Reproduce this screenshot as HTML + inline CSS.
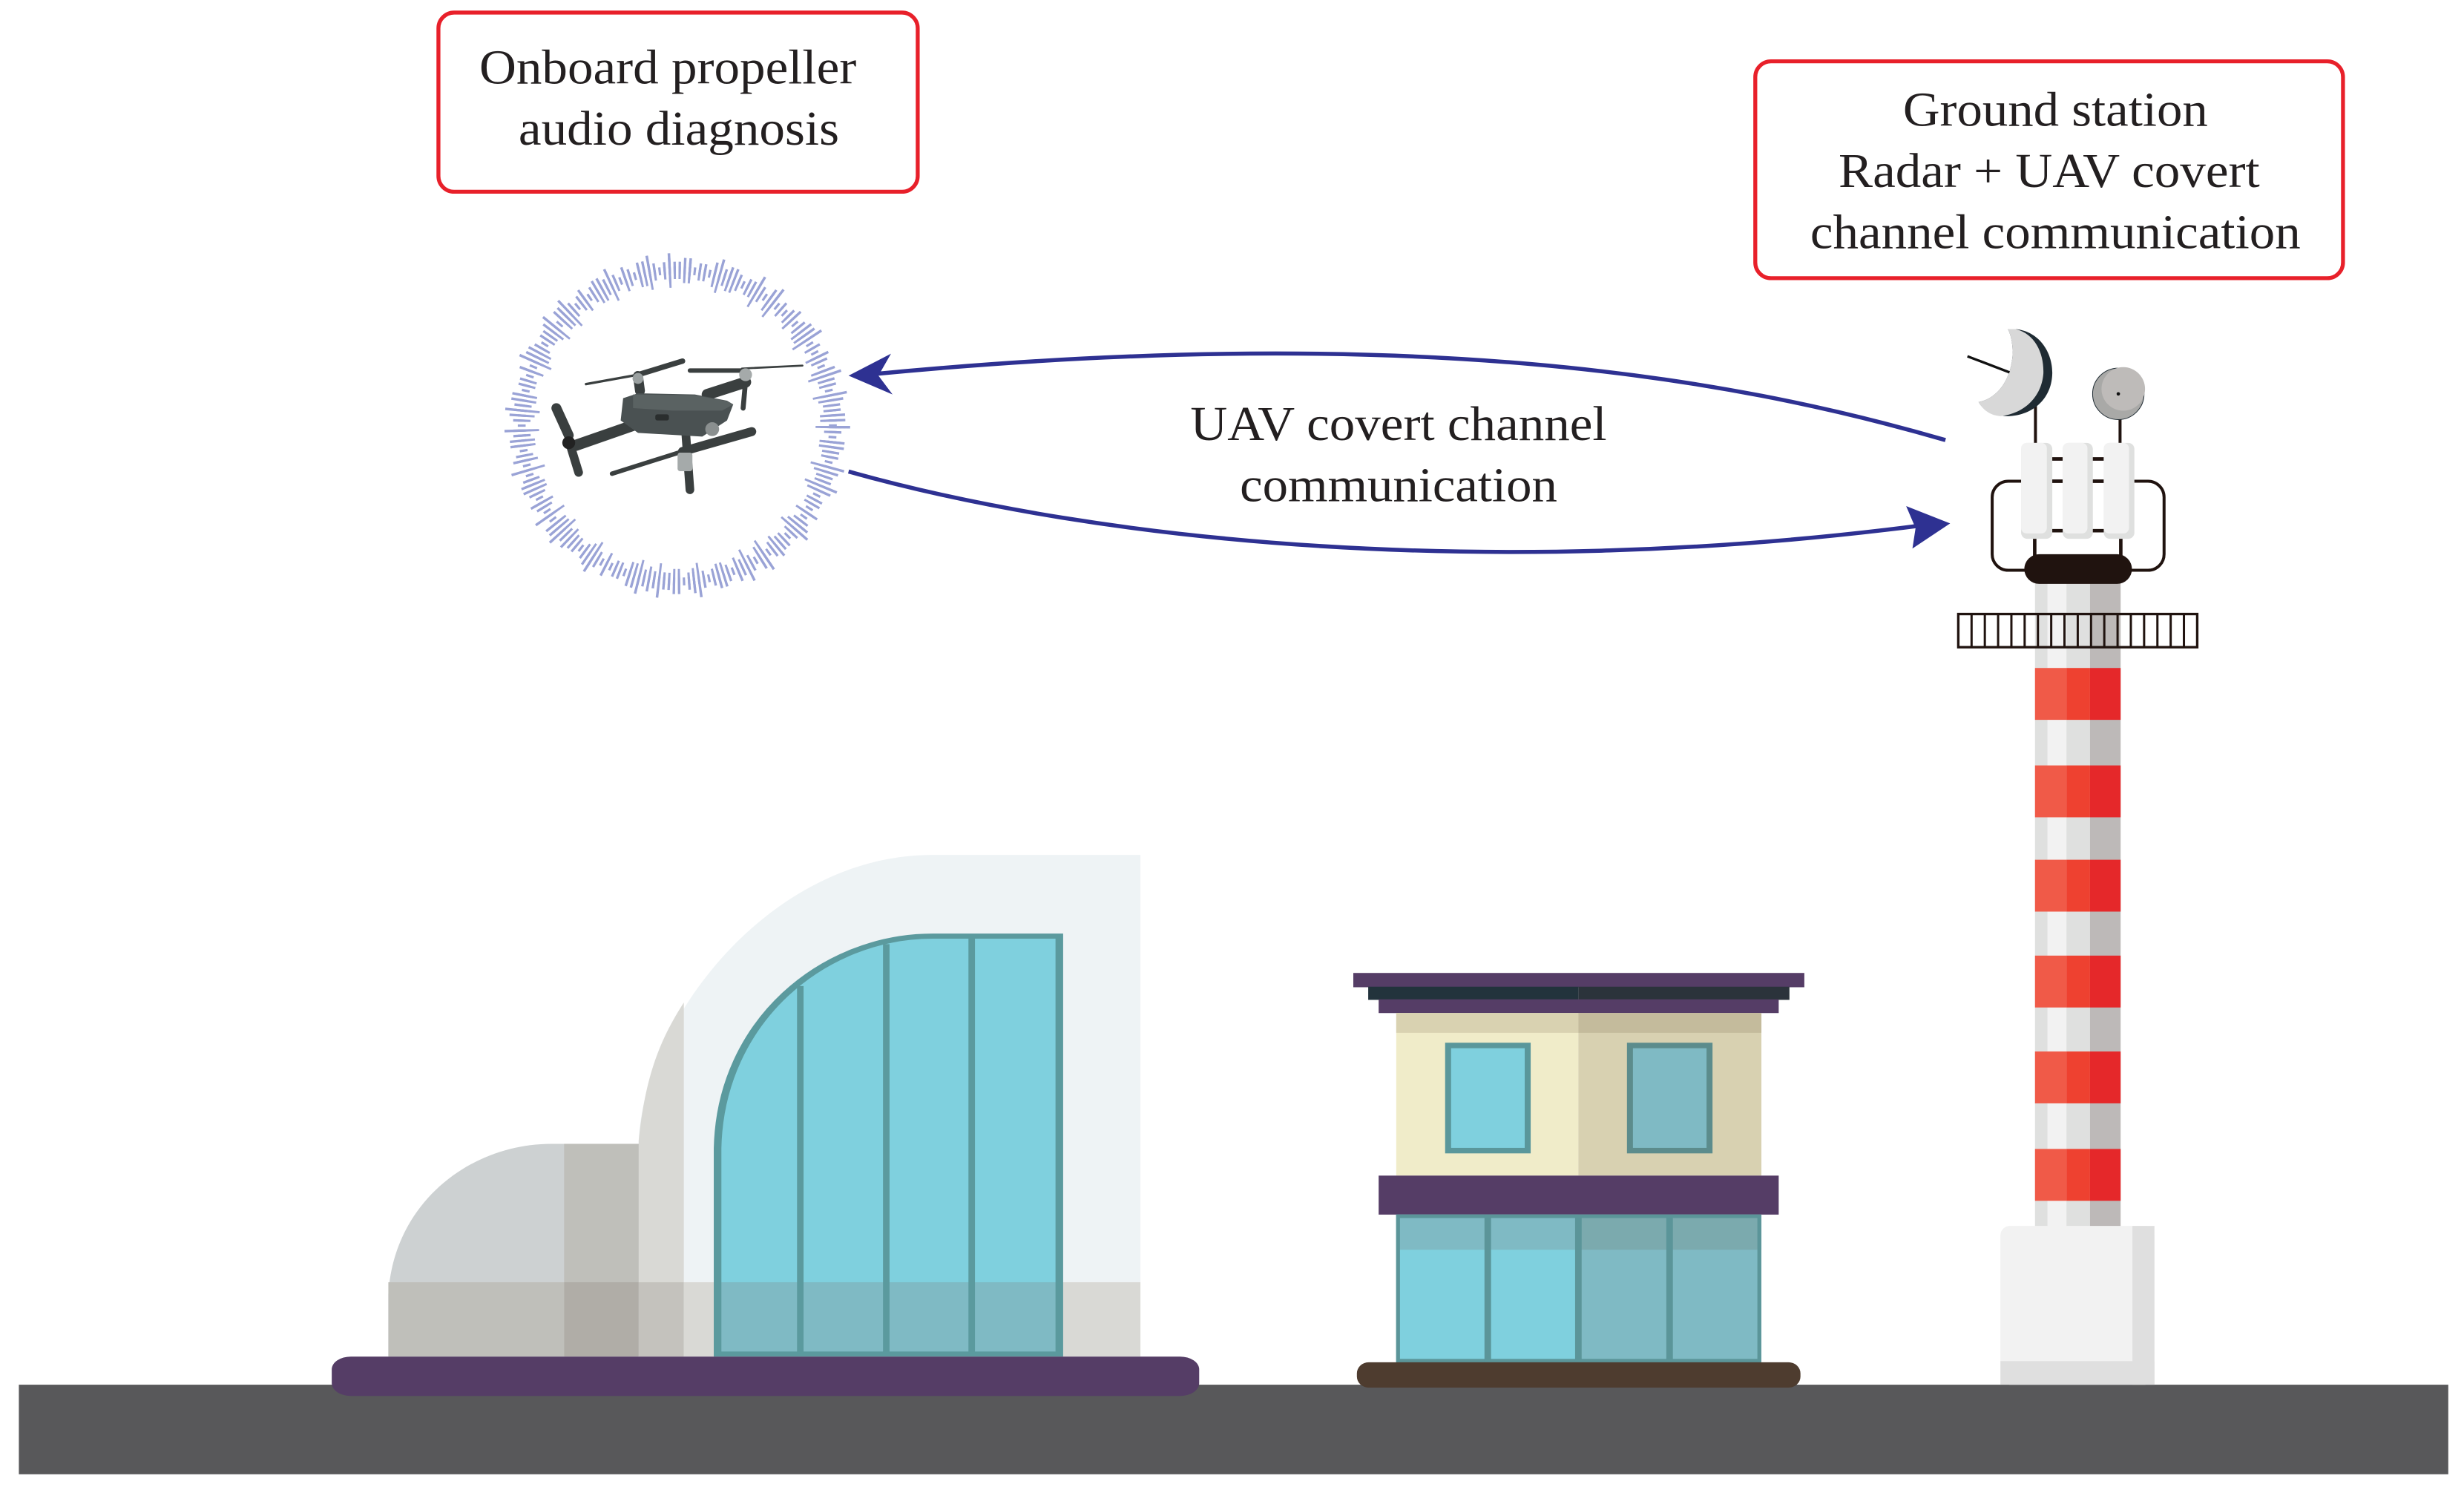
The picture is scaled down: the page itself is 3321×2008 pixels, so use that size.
<!DOCTYPE html>
<html><head><meta charset="utf-8"><style>
html,body{margin:0;padding:0;background:#fff;}
svg{display:block;}
</style></head><body>
<svg width="3321" height="2008" viewBox="0 0 1568 948" preserveAspectRatio="none" xmlns="http://www.w3.org/2000/svg">
<rect width="1568" height="948" fill="#fff"/>
<rect x="12" y="881" width="1546" height="57" fill="#58585a"/>

<g font-family="'Liberation Serif', 'DejaVu Serif', serif" fill="#231f20" font-size="31" text-anchor="middle">
<rect x="279" y="8" width="305" height="114" rx="10" fill="#fff" stroke="#e8202a" stroke-width="2.5"/>
<text x="425" y="53" textLength="240" lengthAdjust="spacingAndGlyphs">Onboard propeller</text>
<text x="432" y="92" textLength="204" lengthAdjust="spacingAndGlyphs">audio diagnosis</text>
<rect x="1117" y="39" width="374" height="138" rx="10" fill="#fff" stroke="#e8202a" stroke-width="2.5"/>
<text x="1308" y="80" textLength="194" lengthAdjust="spacingAndGlyphs">Ground station</text>
<text x="1304" y="119" textLength="268" lengthAdjust="spacingAndGlyphs">Radar + UAV covert</text>
<text x="1308" y="158" textLength="312" lengthAdjust="spacingAndGlyphs">channel communication</text>
<text x="890" y="280" textLength="265" lengthAdjust="spacingAndGlyphs">UAV covert channel</text>
<text x="890" y="319" textLength="202" lengthAdjust="spacingAndGlyphs">communication</text>
</g>

<path d="M1238,280 C1100,240 900,205 556,238" fill="none" stroke="#2e3192" stroke-width="2.6"/>
<path d="M540,239 L567,225 L559,239 L568,251 Z" fill="#2e3192"/>
<path d="M540,300 C700,345 950,370 1225,334" fill="none" stroke="#2e3192" stroke-width="2.6"/>
<path d="M1241,333 L1213,322 L1219,336 L1217,349 Z" fill="#2e3192"/>

<!-- waveform ring -->
<g fill="none" stroke="#9aa3d6">
  <circle cx="431" cy="271" r="99" stroke-width="5" stroke-dasharray="1.5 1.7"/>
  <circle cx="431" cy="271" r="99" stroke-width="11" stroke-dasharray="1.5 1.7 1.5 4.9 1.5 4.9"/>
  <circle cx="431" cy="271" r="99" stroke-width="16" stroke-dasharray="1.5 8.1 1.5 1.7 1.5 14.5"/>
  <circle cx="431" cy="271" r="99" stroke-width="22" stroke-dasharray="1.5 24.1 1.5 11.3 1.5 30.5"/>
</g>

<!-- drone -->
<g transform="translate(321,160.5) scale(0.1574)">
  <g stroke="#3a3f3f" stroke-linecap="round">
    <line x1="330" y1="533" x2="540" y2="495" stroke-width="10"/>
    <line x1="540" y1="495" x2="720" y2="440" stroke-width="22"/>
    <line x1="750" y1="478" x2="960" y2="478" stroke-width="18"/>
    <line x1="960" y1="470" x2="1205" y2="458" stroke-width="8"/>
    <line x1="210" y1="630" x2="260" y2="740" stroke-width="40"/>
    <line x1="260" y1="760" x2="300" y2="890" stroke-width="35"/>
    <line x1="435" y1="895" x2="720" y2="805" stroke-width="18"/>
    <line x1="720" y1="805" x2="1000" y2="725" stroke-width="36"/>
    <line x1="540" y1="500" x2="548" y2="560" stroke-width="40"/>
    <line x1="820" y1="575" x2="975" y2="525" stroke-width="45"/>
    <line x1="975" y1="520" x2="965" y2="630" stroke-width="20"/>
    <line x1="520" y1="700" x2="290" y2="780" stroke-width="45"/>
    <line x1="730" y1="690" x2="750" y2="960" stroke-width="35"/>
  </g>
  <path d="M480,590 L540,570 L770,575 L900,600 L925,615 L900,680 L800,745 L540,730 L470,680 Z" fill="#4a5152"/>
  <path d="M520,575 L770,578 L900,602 L925,615 L880,640 L680,640 L520,630 Z" fill="#5a6262"/>
  <rect x="610" y="655" width="55" height="25" rx="8" fill="#2a2e2e"/>
  <circle cx="840" cy="715" r="28" fill="#8a8f8f"/>
  <circle cx="540" cy="510" r="22" fill="#9aa0a0"/>
  <circle cx="975" cy="495" r="26" fill="#a5aaaa"/>
  <circle cx="260" cy="770" r="26" fill="#222"/>
  <rect x="700" y="810" width="60" height="75" rx="10" fill="#a5aaaa"/>
</g>

<!-- left building -->
<g transform="translate(212.5,533.5) scale(0.3463,0.2318)">
  <path d="M560,1420 L560,830 C570,500 800,45 1100,45 L1482,45 L1482,1420 Z" fill="#eef3f5"/>
  <path d="M560,1420 L560,830 C572,650 600,550 643,450 L643,1420 Z" fill="#d9d9d5"/>
  <path d="M100,1420 L100,1250 C110,1000 250,838 400,838 L560,838 L560,1420 Z" fill="#cdd1d2"/>
  <rect x="423" y="838" width="137" height="582" fill="#bfbfba"/>
  <rect x="100" y="1218" width="323" height="204" fill="#bfbfba"/>
  <rect x="423" y="1218" width="137" height="204" fill="#b0ada7"/>
  <rect x="560" y="1218" width="83" height="204" fill="#c4c2bd"/>
  <rect x="643" y="1218" width="839" height="204" fill="#d9d9d5"/>
  <path d="M705,1415 L705,850 C710,500 900,268 1100,268 L1333,268 L1333,1415 Z" fill="#7fd0de"/>
  <rect x="705" y="1218" width="628" height="197" fill="#7fbac4"/>
  <path d="M705,1415 L705,850 C710,500 900,268 1100,268 L1333,268 L1333,1415 Z" fill="none" stroke="#5b9a9e" stroke-width="14"/>
  <g stroke="#5b9a9e" stroke-width="12">
    <line x1="857" y1="405" x2="857" y2="1415"/>
    <line x1="1015" y1="290" x2="1015" y2="1415"/>
    <line x1="1172" y1="268" x2="1172" y2="1415"/>
  </g>
  <rect x="-4" y="1422" width="1594" height="108" rx="35" fill="#553d66"/>
</g>

<!-- middle building -->
<g transform="translate(859.3,613.8) scale(0.1897,0.1747)">
  <rect x="10" y="30" width="1513" height="52" fill="#553d66"/>
  <rect x="60" y="80" width="705" height="48" fill="#22333c"/>
  <rect x="765" y="80" width="708" height="48" fill="#2b333b"/>
  <rect x="95" y="126" width="1342" height="50" fill="#553d66"/>
  <rect x="154" y="176" width="611" height="592" fill="#f0ecc9"/>
  <rect x="765" y="176" width="614" height="592" fill="#d8d1b1"/>
  <rect x="154" y="176" width="611" height="72" fill="#d9d2b1"/>
  <rect x="765" y="176" width="614" height="72" fill="#c4bb9c"/>
  <rect x="328" y="294" width="267" height="383" fill="#7fd0de" stroke="#5a979b" stroke-width="20"/>
  <rect x="938" y="294" width="267" height="383" fill="#7fbac4" stroke="#5c8c8c" stroke-width="20"/>
  <rect x="95" y="768" width="1342" height="142" fill="#553d66"/>
  <rect x="154" y="910" width="611" height="538" fill="#7fd0de"/>
  <rect x="765" y="910" width="614" height="538" fill="#7fbac4"/>
  <rect x="154" y="910" width="611" height="128" fill="#7fbac4"/>
  <rect x="765" y="910" width="614" height="128" fill="#7baaae"/>
  <rect x="160" y="916" width="1212" height="526" fill="none" stroke="#5b9599" stroke-width="13"/>
  <g stroke="#5b9599" stroke-width="22">
    <line x1="461" y1="910" x2="461" y2="1448"/>
    <line x1="765" y1="910" x2="765" y2="1448"/>
    <line x1="1071" y1="910" x2="1071" y2="1448"/>
  </g>
  <rect x="22" y="1448" width="1488" height="92" rx="40" fill="#4e3c2f"/>
</g>

<!-- tower pole -->
<rect x="1295" y="371" width="8" height="410" fill="#dfe0df"/>
<rect x="1303" y="371" width="12" height="410" fill="#f2f2f2"/>
<rect x="1315" y="371" width="15" height="410" fill="#dfe0df"/>
<rect x="1330" y="371" width="19.5" height="410" fill="#bdb9b8"/>
<g>
  <g fill="#f05a48"><rect x="1295" y="425" width="20" height="33"/><rect x="1295" y="487" width="20" height="33"/><rect x="1295" y="547" width="20" height="33"/><rect x="1295" y="608" width="20" height="33"/><rect x="1295" y="669" width="20" height="33"/><rect x="1295" y="731" width="20" height="33"/></g>
  <g fill="#ee4130"><rect x="1315" y="425" width="15" height="33"/><rect x="1315" y="487" width="15" height="33"/><rect x="1315" y="547" width="15" height="33"/><rect x="1315" y="608" width="15" height="33"/><rect x="1315" y="669" width="15" height="33"/><rect x="1315" y="731" width="15" height="33"/></g>
  <g fill="#e5282a"><rect x="1330" y="425" width="19.5" height="33"/><rect x="1330" y="487" width="19.5" height="33"/><rect x="1330" y="547" width="19.5" height="33"/><rect x="1330" y="608" width="19.5" height="33"/><rect x="1330" y="669" width="19.5" height="33"/><rect x="1330" y="731" width="19.5" height="33"/></g>
</g>
<rect x="1273" y="780" width="98" height="101" rx="6" fill="#f2f2f2"/>
<rect x="1357" y="780" width="14" height="101" fill="#dfdfdf"/>
<rect x="1273" y="866" width="98" height="15" fill="#dfdfdf"/>

<!-- tower top -->
<g transform="translate(1204,188.9) scale(0.1574)">
  <line x1="580" y1="430" x2="580" y2="600" stroke="#20130f" stroke-width="12"/>
  <line x1="922" y1="480" x2="922" y2="600" stroke="#20130f" stroke-width="12"/>
  <path d="M500,130 C600,140 650,230 648,310 C645,420 560,480 470,482 C410,482 370,460 350,425 C430,410 480,330 487,240 C490,190 480,150 468,130 Z" fill="#1f2b33"/>
  <path d="M500,130 C580,150 615,230 612,310 C605,400 540,470 440,482 C400,480 370,460 350,425 C430,410 480,330 487,240 C490,190 480,150 468,130 Z" fill="#d8d8d8"/>
  <line x1="305" y1="240" x2="475" y2="305" stroke="#111" stroke-width="10"/>
  <circle cx="915" cy="392" r="104" fill="#a9a9a7" stroke="#1f2b33" stroke-width="3"/>
  <circle cx="935" cy="372" r="88" fill="#bebbb9"/>
  <circle cx="915" cy="392" r="7" fill="#111"/>
  <rect x="405" y="745" width="695" height="360" rx="65" fill="none" stroke="#20130f" stroke-width="12"/>
  <g stroke="#20130f" stroke-width="14">
    <line x1="640" y1="655" x2="860" y2="655"/>
    <line x1="640" y1="745" x2="860" y2="745"/>
    <line x1="640" y1="945" x2="860" y2="945"/>
    <line x1="577" y1="970" x2="577" y2="1050"/>
    <line x1="925" y1="970" x2="925" y2="1050"/>
  </g>
  <rect x="522" y="590" width="126" height="388" rx="25" fill="#dfe0df"/>
  <rect x="522" y="590" width="104" height="366" rx="22" fill="#f2f2f2"/>
  <rect x="690" y="590" width="122" height="388" rx="25" fill="#dfe0df"/>
  <rect x="690" y="590" width="100" height="366" rx="22" fill="#f2f2f2"/>
  <rect x="856" y="590" width="124" height="388" rx="25" fill="#dfe0df"/>
  <rect x="856" y="590" width="102" height="366" rx="22" fill="#f2f2f2"/>
  <rect x="535" y="1040" width="435" height="120" rx="60" fill="#20130f"/>
  <rect x="268" y="1282" width="966" height="134" fill="none" stroke="#20130f" stroke-width="10"/>
  <path d="M321.7,1282V1416M375.3,1282V1416M429,1282V1416M482.7,1282V1416M536.3,1282V1416M590,1282V1416M643.7,1282V1416M697.3,1282V1416M751,1282V1416M804.7,1282V1416M858.3,1282V1416M912,1282V1416M965.7,1282V1416M1019.3,1282V1416M1073,1282V1416M1126.7,1282V1416M1180.3,1282V1416" stroke="#20130f" stroke-width="9"/>
</g>
</svg>
</body></html>
